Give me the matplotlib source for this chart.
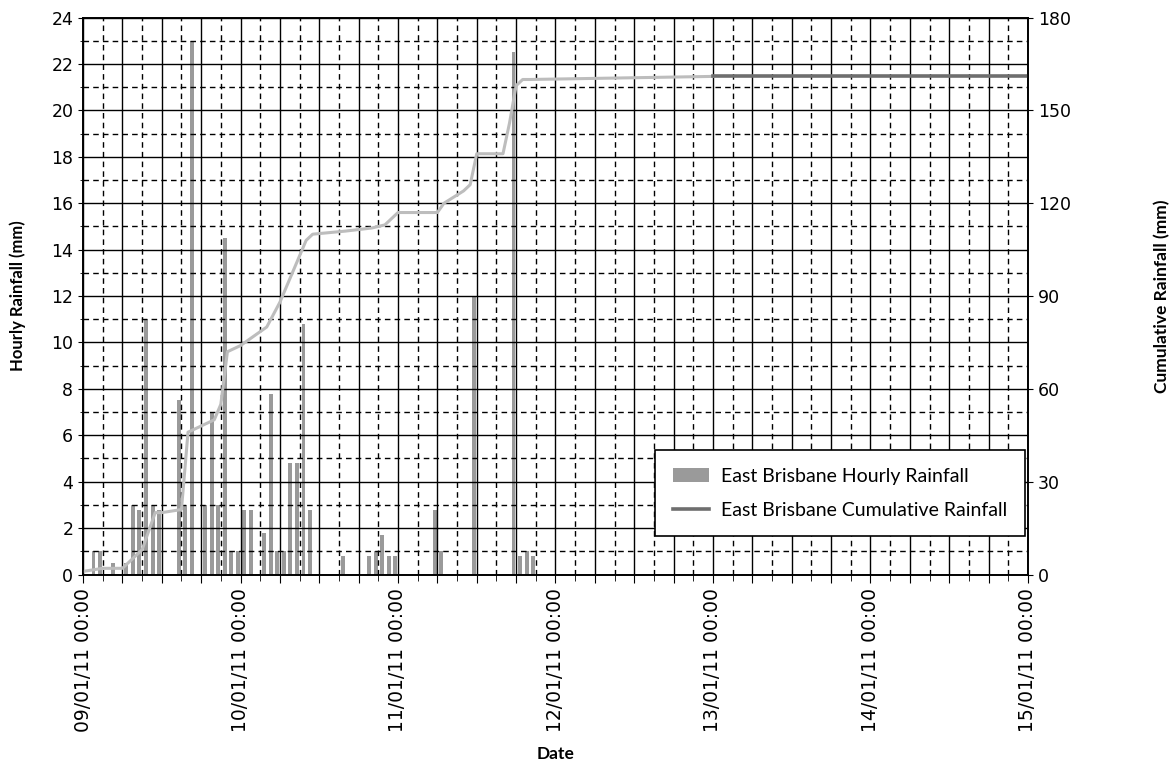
import matplotlib

matplotlib.use("Agg")
import matplotlib.dates as mdates
import matplotlib.pyplot as plt
import pandas as pd
from matplotlib.ticker import FuncFormatter, MultipleLocator

START = pd.Timestamp("2011-01-09 00:00")
END = pd.Timestamp("2011-01-15 00:00")

# hourly rainfall bars: hours since 09/01/11 00:00 and depth (mm)
rain_hours = [2, 3, 5, 7, 8, 9, 10, 11, 12, 15, 16, 17, 19, 20, 21, 22, 23,
              24, 25, 26, 28, 29, 30, 31, 32, 33, 34, 35, 40, 44, 45, 46, 47,
              48, 54, 55, 60, 66, 67, 68, 69]
rain_mm = [1.0, 1.0, 0.5, 0.5, 3.0, 2.8, 11.0, 3.0, 2.8, 7.5, 3.0, 23.0, 3.0, 7.0, 3.0, 14.5, 1.0,
           1.0, 2.8, 2.8, 1.8, 7.8, 1.0, 1.0, 4.8, 4.8, 10.8, 2.8, 0.8, 0.8, 1.0, 1.7, 0.8,
           0.8, 2.8, 1.0, 12.0, 22.5, 0.8, 1.0, 0.8]

# cumulative rainfall line (mm), read at these hours
cum_hours = [0, 3, 6, 8, 9, 11, 12, 15, 16, 18, 20, 21, 22, 24, 26, 28, 30, 32, 34, 35,
             40, 44, 46, 48, 54, 55, 58, 59, 60, 64, 65, 66, 67, 68, 96, 144]
cum_mm = [1, 2, 2, 6, 8, 20, 20, 21, 46, 48, 50, 55, 72, 74, 77, 80, 88, 98, 108, 110,
          111, 112, 113, 117, 117, 120, 124, 126, 136, 136, 146, 158, 160, 160, 161, 161]

# bars sit just before the hour mark, as in the original chart
rain_t = [START + pd.Timedelta(hours=h - 0.4) for h in rain_hours]
cum_t = [START + pd.Timedelta(hours=h) for h in cum_hours]
split = cum_hours.index(96)

plt.rcParams["font.family"] = ["Lato", "DejaVu Sans"]

fig = plt.figure(figsize=(11.76, 7.66), dpi=100)
ax = fig.add_axes([0.0706, 0.250, 0.8035, 0.727])

ax.bar(rain_t, rain_mm, width=0.6 / 24, color="#9a9a9a", label="East Brisbane Hourly Rainfall")
ax.set_xlim(START, END)
ax.set_ylim(0, 24)
ax.yaxis.set_major_locator(MultipleLocator(2))
ax.yaxis.set_minor_locator(MultipleLocator(1))

ax.xaxis.set_major_locator(mdates.HourLocator(byhour=[0, 6, 12, 18]))
ax.xaxis.set_minor_locator(mdates.HourLocator(byhour=[3, 9, 15, 21]))


def day_label(value, pos):
    d = mdates.num2date(value)
    return d.strftime("%d/%m/%y %H:%M") if d.hour == 0 else ""


ax.xaxis.set_major_formatter(FuncFormatter(day_label))
for lab in ax.get_xticklabels():
    lab.set_rotation(90)
ax.tick_params(axis="x", which="major", labelsize=13.5, length=6, labelfontfamily="DejaVu Sans")
ax.tick_params(axis="x", which="minor", length=4)
ax.tick_params(axis="y", labelsize=12.5, labelfontfamily="DejaVu Sans")

ax.grid(which="major", color="black", linestyle="-", linewidth=1.0)
ax.grid(which="minor", color="black", linestyle=(0, (4, 3)), linewidth=1.0)

ax.set_ylabel("Hourly Rainfall (mm)", fontsize=12, fontweight="bold", labelpad=18)
ax.set_xlabel("Date", fontsize=12.5, fontweight="bold", labelpad=10)

ax2 = ax.twinx()
ax2.plot(cum_t[:split + 1], cum_mm[:split + 1], color="#bdbdbd", linewidth=2.2)
ax2.plot(cum_t[split:], cum_mm[split:], color="#6e6e6e", linewidth=2.6,
         label="East Brisbane Cumulative Rainfall")
ax2.set_ylim(0, 180)
ax2.yaxis.set_major_locator(MultipleLocator(30))
ax2.tick_params(axis="y", labelsize=12.5, labelfontfamily="DejaVu Sans")
ax2.set_ylabel("Cumulative Rainfall (mm)", fontsize=12.5, fontweight="bold", labelpad=60)

for spine in list(ax.spines.values()) + list(ax2.spines.values()):
    spine.set_color("black")
    spine.set_linewidth(1.2)

h1, l1 = ax.get_legend_handles_labels()
h2, l2 = ax2.get_legend_handles_labels()
leg = fig.legend(h1 + h2, l1 + l2, loc="lower left",
                 bbox_to_anchor=(655 / 1176, 1 - 536 / 766), fontsize=14,
                 frameon=True, fancybox=False, edgecolor="black", framealpha=1,
                 handlelength=1.9, labelspacing=0.85, borderpad=0.9, handletextpad=0.6,
                 borderaxespad=0)
leg.get_frame().set_linewidth(1.2)

fig.savefig("out.png", dpi=100, facecolor="white")
